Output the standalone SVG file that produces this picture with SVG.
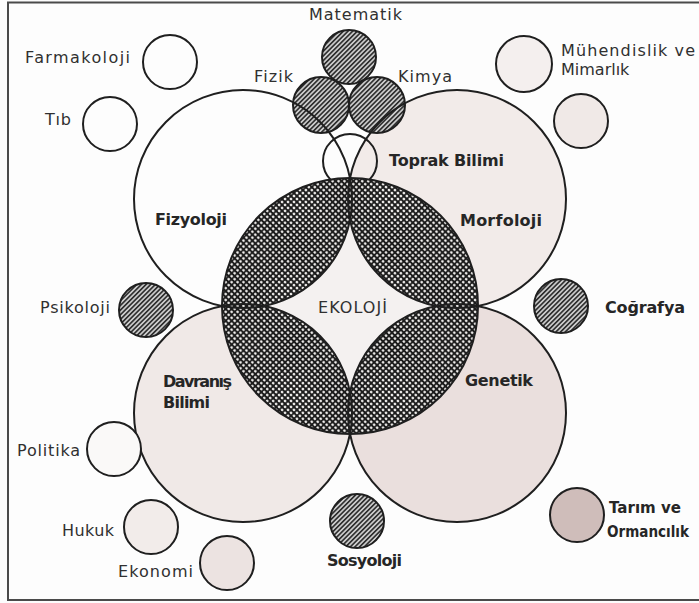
<svg xmlns="http://www.w3.org/2000/svg" xmlns:xlink="http://www.w3.org/1999/xlink" width="699" height="603" viewBox="0 0 699 603">
<defs>
<style>
.ln{fill:none;stroke:#1f1f1f;stroke-width:2}
.c{stroke:#1f1f1f;stroke-width:2}
.hat{fill:url(#hatch)}
.t{font-family:"DejaVu Sans","Liberation Sans",sans-serif;font-size:16px;fill:#303030}
.b{font-family:"DejaVu Sans","Liberation Sans",sans-serif;font-size:16px;font-weight:bold;fill:#262626}
</style>
<pattern id="hatch" patternUnits="userSpaceOnUse" width="3.3" height="3.3" patternTransform="rotate(45)">
<rect width="3.3" height="3.3" fill="#cacaca"/>
<line x1="0.8" y1="0" x2="0.8" y2="3.3" stroke="#2c2c2c" stroke-width="1.6"/>
</pattern>
<pattern id="xhatch" patternUnits="userSpaceOnUse" width="4.2" height="4.2" patternTransform="rotate(45)">
<rect width="4.2" height="4.2" fill="#1c1c1c"/>
<circle cx="2.1" cy="2.1" r="1.35" fill="#f4f2f0"/>
</pattern>
<circle id="cFiz" cx="243" cy="199" r="109"/>
<circle id="cMor" cx="457" cy="199" r="109"/>
<circle id="cDav" cx="243" cy="413" r="109"/>
<circle id="cGen" cx="457" cy="413" r="109"/>
<clipPath id="clipEko"><circle cx="350" cy="306" r="128"/></clipPath>
<clipPath id="clipFizik"><circle cx="321" cy="105" r="28"/></clipPath>
<clipPath id="clipKimya"><circle cx="377" cy="105" r="28"/></clipPath>
</defs>

<rect x="0" y="0" width="699" height="603" fill="#fcfcfc"/>
<rect x="8" y="2.5" width="691" height="597.5" fill="#fdfdfd"/>
<path d="M699 2.5H8V600H699" fill="none" stroke="#4a4a4a" stroke-width="2"/>

<g id="fizyoloji">
<circle cx="243" cy="199" r="109" fill="#fdfdfd" class="c"/>
<text class="b" x="155" y="225" textLength="72" lengthAdjust="spacing">Fizyoloji</text>
</g>
<g id="morfoloji">
<circle cx="457" cy="199" r="109" fill="#f2ebe9" class="c"/>
<text class="b" x="460" y="226" textLength="82" lengthAdjust="spacing">Morfoloji</text>
</g>
<g id="davranis">
<circle cx="243" cy="413" r="109" fill="#f0e9e7" class="c"/>
<text class="b" x="163" y="387" textLength="69" lengthAdjust="spacing">Davranış</text>
<text class="b" x="163" y="408" textLength="47" lengthAdjust="spacing">Bilimi</text>
</g>
<g id="genetik">
<circle cx="457" cy="413" r="109" fill="#eadfdd" class="c"/>
<text class="b" x="465" y="386" textLength="68" lengthAdjust="spacing">Genetik</text>
</g>

<g id="toprak">
<circle cx="350" cy="161" r="27" class="ln"/>
<text class="b" x="389" y="166" textLength="115" lengthAdjust="spacing">Toprak Bilimi</text>
</g>

<g id="ekoloji">
<circle cx="350" cy="306" r="128" fill="#f4f1f0"/>
<g clip-path="url(#clipEko)">
<use xlink:href="#cFiz" fill="url(#xhatch)"/>
<use xlink:href="#cMor" fill="url(#xhatch)"/>
<use xlink:href="#cDav" fill="url(#xhatch)"/>
<use xlink:href="#cGen" fill="url(#xhatch)"/>
<use xlink:href="#cFiz" class="ln"/>
<use xlink:href="#cMor" class="ln"/>
<use xlink:href="#cDav" class="ln"/>
<use xlink:href="#cGen" class="ln"/>
</g>
<circle cx="350" cy="306" r="128" class="ln"/>
<text class="t" x="318" y="313" font-size="15" textLength="69" lengthAdjust="spacing">EKOLOJİ</text>
</g>

<g id="matematik">
<circle cx="349" cy="57" r="27" class="c hat"/>
<text class="t" x="309" y="20" textLength="93" lengthAdjust="spacing">Matematik</text>
</g>
<g id="fizik">
<circle cx="321" cy="105" r="28" class="c hat"/>
<g clip-path="url(#clipFizik)"><use xlink:href="#cFiz" class="ln"/></g>
<text class="t" x="254" y="82" textLength="39" lengthAdjust="spacing">Fizik</text>
</g>
<g id="kimya">
<circle cx="377" cy="105" r="28" class="c hat"/>
<g clip-path="url(#clipKimya)"><use xlink:href="#cMor" class="ln"/></g>
<text class="t" x="398" y="82" textLength="54" lengthAdjust="spacing">Kimya</text>
</g>

<g id="farmakoloji">
<circle cx="170" cy="62" r="27" fill="#fdfdfd" class="c"/>
<text class="t" x="25" y="63" textLength="105" lengthAdjust="spacing">Farmakoloji</text>
</g>
<g id="tib">
<circle cx="110" cy="124" r="27" fill="#fdfdfd" class="c"/>
<text class="t" x="45" y="125" textLength="26" lengthAdjust="spacing">Tıb</text>
</g>
<g id="muhendislik">
<circle cx="524" cy="64" r="28" fill="#f4efee" class="c"/>
<text class="t" x="561" y="56" textLength="134" lengthAdjust="spacing">Mühendislik ve</text>
<text class="t" x="561" y="75">Mimarlık</text>
</g>
<g id="sag-daire">
<circle cx="581" cy="121" r="27" fill="#f0e9e7" class="c"/>
</g>
<g id="psikoloji">
<circle cx="146" cy="310" r="27" class="c hat"/>
<text class="t" x="40" y="313" textLength="70" lengthAdjust="spacing">Psikoloji</text>
</g>
<g id="cografya">
<circle cx="561" cy="306" r="27" class="c hat"/>
<text class="b" x="605" y="313" textLength="80" lengthAdjust="spacing">Coğrafya</text>
</g>
<g id="politika">
<circle cx="114" cy="449" r="27" fill="#faf9f8" class="c"/>
<text class="t" x="17" y="456" textLength="63" lengthAdjust="spacing">Politika</text>
</g>
<g id="hukuk">
<circle cx="151" cy="527" r="27" fill="#f2ecea" class="c"/>
<text class="t" x="62" y="536" textLength="52" lengthAdjust="spacing">Hukuk</text>
</g>
<g id="ekonomi">
<circle cx="227" cy="563" r="27" fill="#ece3e1" class="c"/>
<text class="t" x="118" y="577" textLength="75" lengthAdjust="spacing">Ekonomi</text>
</g>
<g id="sosyoloji">
<circle cx="357" cy="521" r="27" class="c hat"/>
<text class="b" x="327" y="566" textLength="75" lengthAdjust="spacing">Sosyoloji</text>
</g>
<g id="tarim">
<circle cx="577" cy="515" r="27" fill="#cfbdba" class="c"/>
<text class="b" x="609" y="513" font-size="15" textLength="72" lengthAdjust="spacingAndGlyphs">Tarım ve</text>
<text class="b" x="607" y="537" font-size="14" textLength="82" lengthAdjust="spacingAndGlyphs">Ormancılık</text>
</g>
</svg>
